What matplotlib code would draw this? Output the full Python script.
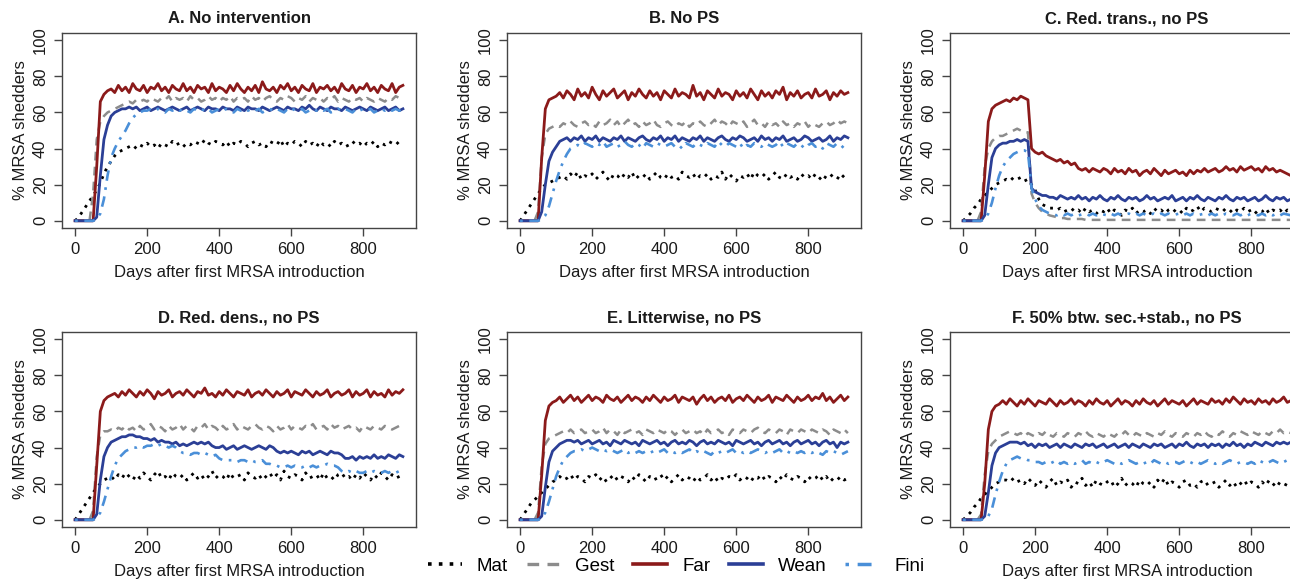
import numpy as np
import matplotlib
matplotlib.use("Agg")
import matplotlib.pyplot as plt

plt.rcParams['font.family'] = ['Liberation Sans', 'DejaVu Sans']

# days after first MRSA introduction, one reading every 10 days
days = list(range(0, 911, 10))

titles = ["A. No intervention", "B. No PS", "C. Red. trans., no PS",
          "D. Red. dens., no PS", "E. Litterwise, no PS", "F. 50% btw. sec.+stab., no PS"]
groups = ["Mat", "Gest", "Far", "Wean", "Fini"]

# ---- A. No intervention
mat_a = [0,2,5,8,11,14,17,21,26,30,
         33,36,38,39,40,41,42,40,42,41,
         43,41,42,40,43,42,41,44,42,43,
         41,43,42,44,43,42,45,43,42,44,
         43,42,44,41,43,42,44,43,41,43,
         44,42,43,41,44,43,42,45,41,43,
         42,44,43,41,44,42,43,41,44,42,
         43,41,44,42,43,41,42,44,42,43,
         41,43,42,44,41,43,42,44,43,42,
         44,43]
gest_a = [0,0,0,0,0,15,45,55,58,60,
          61,62,63,64,65,66,65,67,66,67,
          66,68,67,66,68,67,69,66,68,67,
          68,66,69,67,68,66,67,69,67,68,
          66,68,67,69,66,68,67,68,66,69,
          67,68,66,68,69,67,66,68,67,69,
          68,66,68,67,69,66,68,67,68,66,
          68,67,69,66,68,67,66,68,67,68,
          66,68,67,66,68,67,66,68,67,69,
          68,69]
far_a = [0,0,0,0,0,0,30,66,70,72,
         73,71,75,72,74,71,76,73,72,75,
         71,74,73,76,72,74,71,75,73,72,
         76,72,74,71,75,73,74,71,76,72,
         74,73,71,75,72,76,73,71,74,72,
         75,71,77,73,72,74,71,75,73,76,
         72,74,71,75,73,72,76,71,74,73,
         75,72,74,71,76,73,72,75,71,74,
         73,76,72,74,71,75,73,72,76,71,
         74,75]
wean_a = [0,0,0,0,0,0,2,25,45,53,
          58,60,61,62,62,63,62,63,61,62,
          63,61,62,63,62,61,62,63,62,61,
          62,63,61,62,63,62,61,63,62,62,
          61,63,62,62,61,63,62,61,63,62,
          62,61,63,62,61,62,63,62,61,63,
          62,62,61,63,62,64,62,61,63,62,
          61,63,62,62,61,63,62,61,62,63,
          62,61,63,62,61,62,63,61,62,63,
          61,62]
fini_a = [0,0,0,0,0,0,1,4,12,25,
          35,40,44,47,50,54,57,59,60,61,
          61,62,61,62,61,60,62,61,62,61,
          62,61,60,62,61,62,61,62,60,61,
          62,61,62,61,60,62,61,62,61,62,
          61,62,60,61,62,61,62,61,60,62,
          61,62,61,62,60,61,62,61,62,61,
          62,60,61,62,61,62,61,60,62,61,
          62,61,62,60,61,62,61,62,61,62,
          61,62]

# ---- B. No PS
mat_b = [0,3,6,9,12,15,18,20,21,22,
         23,24,25,23,26,24,27,23,25,24,
         26,23,25,27,24,22,26,25,23,26,
         24,27,23,25,24,26,23,25,27,24,
         23,26,24,25,23,27,25,24,26,23,
         25,24,26,23,25,24,27,23,26,24,
         22,25,24,26,23,27,25,24,26,23,
         25,27,24,23,26,24,25,23,26,24,
         25,23,26,24,22,25,26,24,23,26,
         24,25]
gest_b = [0,0,0,0,0,5,35,48,51,52,
          53,52,54,53,55,53,52,54,55,53,
          54,52,55,53,54,56,53,55,52,54,
          56,53,54,52,55,53,54,56,53,52,
          54,55,53,52,54,53,55,52,54,53,
          55,53,52,54,56,53,55,54,52,55,
          54,53,55,52,54,56,53,54,52,55,
          53,54,52,55,53,54,52,54,53,55,
          52,54,53,52,54,55,53,54,56,54,
          55,54]
far_b = [0,0,0,0,0,0,35,62,67,68,
         69,71,68,72,70,67,73,69,71,68,
         74,70,67,72,69,71,73,68,70,72,
         67,71,69,73,70,68,72,69,71,67,
         72,70,68,73,69,71,70,68,75,69,
         71,67,72,70,68,73,69,71,70,67,
         72,69,71,68,73,70,67,72,69,71,
         68,72,70,74,67,71,69,72,68,70,
         71,68,73,69,70,72,67,71,69,72,
         70,71]
wean_b = [0,0,0,0,0,0,5,20,33,38,
          41,44,45,46,44,46,45,47,44,46,
          45,47,44,46,45,44,46,45,47,44,
          46,45,44,46,47,45,44,46,45,47,
          44,46,45,47,44,46,45,44,46,45,
          47,44,46,45,44,46,47,45,44,46,
          45,47,46,44,45,46,44,47,45,46,
          44,46,45,47,44,45,46,44,45,47,
          46,44,45,46,44,45,47,44,46,45,
          47,46]
fini_b = [0,0,0,0,0,0,1,3,8,15,
          22,28,33,37,40,41,42,41,43,42,
          41,43,42,44,41,42,43,41,42,44,
          42,41,43,42,40,43,42,41,43,42,
          41,42,43,41,42,40,43,42,41,43,
          42,41,43,42,41,44,42,41,43,42,
          41,43,40,42,41,43,42,41,43,42,
          41,42,44,41,43,42,41,43,42,40,
          42,43,41,42,40,43,42,41,43,42,
          40,41]

# ---- C. Red. trans., no PS
mat_c = [0,2,4,7,9,12,14,16,18,20,
         21,22,23,22,24,23,24,22,23,20,
         17,12,9,8,7,7,6,7,5,6,
         7,5,6,4,7,5,6,4,6,5,
         7,4,6,5,3,6,5,7,4,6,
         5,6,4,7,5,6,4,6,7,5,
         6,4,7,5,6,8,5,7,6,5,
         7,6,5,7,6,4,6,5,7,5,
         6,4,6,5,7,4,6,5,6,4,
         6,5]
gest_c = [0,0,0,0,0,5,30,40,44,46,
          47,47,48,49,50,51,50,49,49,15,
          10,7,5,4,3,2.5,2,1.5,1.5,1,
          1,1,1,1,0.5,0.5,0.5,0.5,0.5,0.5,
          0.5,0.5,0.5,0.5,0.5,0.5,0.5,0.5,0.5,0.5,
          0.5,0.5,0.5,0.5,0.5,0.5,0.5,0.5,0.5,0.5,
          0.5,0.5,0.5,0.5,0.5,0.5,0.5,0.5,0.5,0.5,
          0.5,0.5,0.5,0.5,0.5,0.5,0.5,0.5,0.5,0.5,
          0.5,0.5,0.5,0.5,0.5,0.5,0.5,0.5,0.5,0.5,
          0.5,0.5]
far_c = [0,0,0,0,0,0,25,55,62,64,
         65,66,67,66,68,67,69,68,67,40,
         38,37,38,36,35,34,33,34,32,33,
         31,32,29,28,29,27,29,28,27,29,
         28,26,29,27,28,26,29,27,28,25,
         27,28,26,29,27,25,28,26,27,28,
         26,27,25,28,26,28,27,29,27,28,
         29,27,28,30,28,29,27,30,28,29,
         30,28,29,27,30,28,29,27,28,27,
         26,25]
wean_c = [0,0,0,0,0,0,3,20,35,40,
          42,43,43,44,44,45,44,45,44,18,
          16,15,14,14,13,13,12,14,13,12,
          13,12,14,12,13,11,13,12,14,12,
          11,13,12,14,12,11,13,12,13,11,
          12,14,12,13,11,12,13,12,14,11,
          12,13,11,13,12,14,12,11,13,12,
          11,13,12,14,12,11,13,12,13,11,
          12,13,11,12,14,12,11,13,12,13,
          11,12]
fini_c = [0,0,0,0,0,0,1,4,10,18,
          25,30,33,35,37,38,39,39,38,18,
          12,8,6,5,4,3.5,3,4,3,4,
          3,4,3,3.5,4,3,4,3,4,3.5,
          3,4,3,4,3,3.5,4,3,4,3,
          4,3,3.5,4,3,4,3,4,3,3.5,
          4,3,4,3,4,3,3.5,4,3,4,
          3,4,3,4,3.5,3,4,3,4,3,
          4,3.5,3,4,3,4,3,4,3,4,
          3.5,3]

# ---- D. Red. dens., no PS
mat_d = [0,3,6,9,12,15,18,20,22,23,
         24,22,25,23,26,24,22,25,23,26,
         24,22,25,27,23,24,22,26,24,23,
         25,22,24,26,23,25,22,24,27,23,
         25,24,22,26,23,24,25,22,26,24,
         23,25,22,24,26,23,25,22,27,24,
         23,25,24,22,26,23,24,25,22,26,
         23,24,22,25,26,23,24,22,25,23,
         26,24,22,25,23,26,24,22,25,23,
         24,25]
gest_d = [0,0,0,0,0,5,35,47,49,49,
          50,49,51,50,52,50,51,49,52,50,
          51,53,50,52,51,49,52,50,51,53,
          50,52,51,49,52,51,53,50,52,51,
          49,52,50,51,53,50,52,51,50,52,
          53,51,50,52,51,49,52,50,51,53,
          50,52,51,50,52,51,53,50,51,52,
          50,53,51,52,50,51,52,50,51,49,
          52,51,50,52,51,50,52,51,50,51,
          52,53]
far_d = [0,0,0,0,0,0,30,60,66,68,
         69,70,68,71,69,72,70,68,71,69,
         72,70,67,71,69,70,72,68,70,71,
         69,72,70,68,71,70,73,69,70,68,
         71,69,72,70,68,71,70,69,72,68,
         70,71,69,72,70,68,71,69,70,72,
         68,71,70,69,72,70,68,71,69,70,
         72,68,70,71,69,70,72,68,71,69,
         70,72,68,71,69,70,68,72,69,71,
         70,72]
wean_d = [0,0,0,0,0,0,3,22,35,40,
          43,44,45,46,46,47,47,46,46,45,
          45,44,45,43,44,43,43,42,43,41,
          42,41,42,43,42,43,42,43,41,40,
          40,41,39,40,41,39,40,41,40,39,
          40,41,40,39,41,40,38,37,38,37,
          38,37,36,38,37,38,36,37,38,37,
          36,38,37,37,36,34,34,35,33,35,
          34,35,34,36,34,35,34,36,35,34,
          36,35]
fini_d = [0,0,0,0,0,0,1,4,10,17,
          24,30,34,36,38,39,40,40,41,40,
          41,41,42,41,42,41,40,41,40,38,
          37,37,36,37,37,36,37,36,35,36,
          34,33,33,33,33,32,33,33,32,33,
          32,32,33,31,31,30,30,29,29,30,
          29,30,29,29,30,29,30,29,30,30,
          31,30,30,29,27,26,27,26,27,26,
          26,27,26,27,26,26,27,26,27,26,
          27,28]

# ---- E. Litterwise, no PS
mat_e = [0,3,6,9,11,13,15,17,19,21,
         22,24,22,23,25,22,24,23,21,24,
         23,25,22,24,21,23,25,22,24,23,
         21,24,22,25,23,21,24,22,23,25,
         22,24,21,23,25,22,24,23,21,24,
         22,23,25,22,24,21,23,22,24,23,
         25,22,24,23,21,24,23,25,22,24,
         23,21,24,22,25,23,22,24,23,21,
         24,22,23,25,22,24,21,23,22,24,
         22,23]
gest_e = [0,0,0,0,0,4,30,42,45,46,
          47,48,49,48,50,48,49,50,48,49,
          50,48,49,51,48,50,49,47,50,48,
          49,50,48,49,47,50,49,48,50,49,
          48,50,49,47,49,50,48,49,50,48,
          49,47,50,48,49,50,48,49,47,50,
          49,48,50,49,48,50,51,49,48,50,
          49,48,50,49,47,50,49,48,50,49,
          48,50,49,48,50,49,47,50,49,48,
          50,48]
far_e = [0,0,0,0,0,0,25,55,63,65,
         66,68,65,67,69,66,68,65,67,69,
         66,68,67,65,69,67,66,68,65,67,
         69,66,68,67,65,68,66,69,67,65,
         68,66,67,69,65,68,67,66,68,64,
         67,69,66,68,65,67,68,66,69,65,
         67,68,66,69,67,65,68,66,67,69,
         65,68,67,66,69,67,65,68,66,67,
         69,66,68,67,70,66,68,65,67,69,
         66,68]
wean_e = [0,0,0,0,0,0,2,18,32,38,
          40,42,43,44,44,43,44,42,43,44,
          42,43,44,42,43,41,44,43,42,44,
          43,42,43,41,44,43,42,43,44,42,
          43,41,43,44,42,43,42,44,43,41,
          43,44,42,43,42,44,43,42,43,41,
          44,43,42,43,44,42,43,41,43,44,
          42,43,44,42,43,41,43,44,42,43,
          44,42,43,41,43,44,42,43,40,43,
          42,43]
fini_e = [0,0,0,0,0,0,1,4,10,17,
          24,29,33,35,37,38,38,39,38,39,
          40,39,38,39,38,39,38,37,38,39,
          37,38,37,38,37,38,37,38,37,38,
          39,37,38,37,38,37,38,39,37,38,
          37,38,37,36,38,37,38,37,38,39,
          37,38,37,38,37,38,39,38,37,38,
          37,38,39,37,38,37,38,37,38,37,
          38,37,38,37,36,38,37,38,37,36,
          37,38]

# ---- F. 50% btw. sec.+stab., no PS
mat_f = [0,2,4,7,9,12,14,16,18,20,
         21,22,22,21,23,21,22,20,23,21,
         19,22,20,18,21,23,19,21,20,22,
         18,21,20,23,19,21,18,22,20,19,
         21,22,18,20,23,19,21,20,18,22,
         20,19,21,18,22,20,23,19,21,20,
         18,21,22,19,20,18,21,22,19,20,
         21,18,20,22,19,21,18,20,22,19,
         21,20,18,21,19,22,20,18,21,20,
         19,21]
gest_f = [0,0,0,0,0,3,25,38,42,44,
          46,47,48,49,48,47,48,46,48,47,
          46,48,47,49,47,46,48,47,46,48,
          47,46,48,47,49,47,46,48,47,46,
          48,47,46,48,47,49,47,46,48,47,
          46,48,47,46,48,47,49,47,46,48,
          47,46,48,47,46,48,47,49,47,46,
          48,47,49,47,46,48,47,49,48,47,
          49,48,47,49,48,47,49,48,50,48,
          49,48]
far_f = [0,0,0,0,0,0,20,50,60,63,
         64,66,64,67,65,63,66,64,67,65,
         63,66,65,64,67,65,63,66,64,65,
         67,64,66,65,63,66,64,67,65,64,
         66,63,65,67,64,66,65,63,66,64,
         67,65,64,66,63,65,67,64,66,65,
         64,66,63,65,67,64,66,65,64,67,
         65,66,64,67,65,68,66,64,67,65,
         66,64,67,65,66,64,67,65,66,68,
         65,66]
wean_f = [0,0,0,0,0,0,2,15,30,37,
          40,41,42,43,43,43,42,43,41,42,
          40,42,41,42,40,41,42,40,42,41,
          40,42,41,40,42,41,42,40,41,42,
          40,41,42,40,41,42,40,42,41,40,
          42,41,40,42,41,42,40,41,42,40,
          42,41,43,41,40,42,41,42,40,42,
          41,42,40,42,41,43,41,42,40,42,
          41,43,42,41,43,42,41,43,42,43,
          42,43]
fini_f = [0,0,0,0,0,0,0.5,2,6,14,
          21,27,31,33,34,35,34,34,33,33,
          32,32,31,32,31,32,33,31,32,31,
          32,31,32,33,31,32,31,32,31,32,
          33,32,31,32,31,32,33,32,31,32,
          31,32,31,33,32,31,32,31,32,32,
          31,32,33,32,31,32,31,32,33,32,
          31,32,31,32,33,32,31,32,32,31,
          32,31,33,32,31,32,33,32,31,32,
          33,32]

panels = [
    [mat_a, gest_a, far_a, wean_a, fini_a],
    [mat_b, gest_b, far_b, wean_b, fini_b],
    [mat_c, gest_c, far_c, wean_c, fini_c],
    [mat_d, gest_d, far_d, wean_d, fini_d],
    [mat_e, gest_e, far_e, wean_e, fini_e],
    [mat_f, gest_f, far_f, wean_f, fini_f],
]
for p in panels:
    for s in p:
        assert len(s) == len(days), len(s)

colors = ["black", "#8C8C8C", "#8B1A1A", "#2B3F96", "#4A8FD8"]
styles = [(0, (1, 2)), (0, (3.5, 2.5)), "-", "-", (0, (1, 2.5, 4, 2.5))]
widths = [2.0, 1.8, 2.0, 2.0, 1.9]

fig = plt.figure(figsize=(12.9, 5.79), dpi=100)
W, H = 1290.0, 579.0
lefts = [62, 507, 950]
tops = [33, 332]
aw, ah = 354, 195

frame_col = "#444444"
text_col = "#1a1a1a"

for k in range(6):
    r, c = divmod(k, 3)
    ax = fig.add_axes([lefts[c] / W, 1 - (tops[r] + ah) / H, aw / W, ah / H])
    for s, col, ls, lw in zip(panels[k], colors, styles, widths):
        ax.plot(days, s, color=col, linestyle=ls, linewidth=lw)
    ax.set_xlim(-36.4, 946.4)
    ax.set_ylim(-4, 104)
    ax.set_xticks([0, 200, 400, 600, 800])
    ax.set_yticks([0, 20, 40, 60, 80, 100])
    ax.set_yticklabels(["0", "20", "40", "60", "80", "100"], rotation=90, va="center")
    ax.tick_params(direction="out", length=6, width=1, colors=frame_col,
                   labelcolor=text_col, labelsize=12, pad=4)
    for sp in ax.spines.values():
        sp.set_color(frame_col)
        sp.set_linewidth(1)
    ax.set_title(titles[k], fontsize=12, fontweight="bold", color=text_col, pad=7)
    ax.set_ylabel("% MRSA shedders", fontsize=12, color=text_col, labelpad=4)
    if k != 4:
        # the legend sits where panel E's axis label would be
        ax.set_xlabel("Days after first MRSA introduction", fontsize=12,
                      color=text_col, labelpad=6)

handles = []
for g, col, ls, lw in zip(groups, colors, styles, widths):
    handles.append(plt.Line2D([], [], color=col, linestyle=ls, linewidth=lw + 0.6, label=g))
fig.legend(handles=handles, loc="center", bbox_to_anchor=(676 / W, 1 - 566 / H),
           ncol=5, frameon=False, fontsize=13.5, handlelength=1.8,
           handletextpad=0.8, columnspacing=1.0)

fig.savefig("out.png", dpi=100)
